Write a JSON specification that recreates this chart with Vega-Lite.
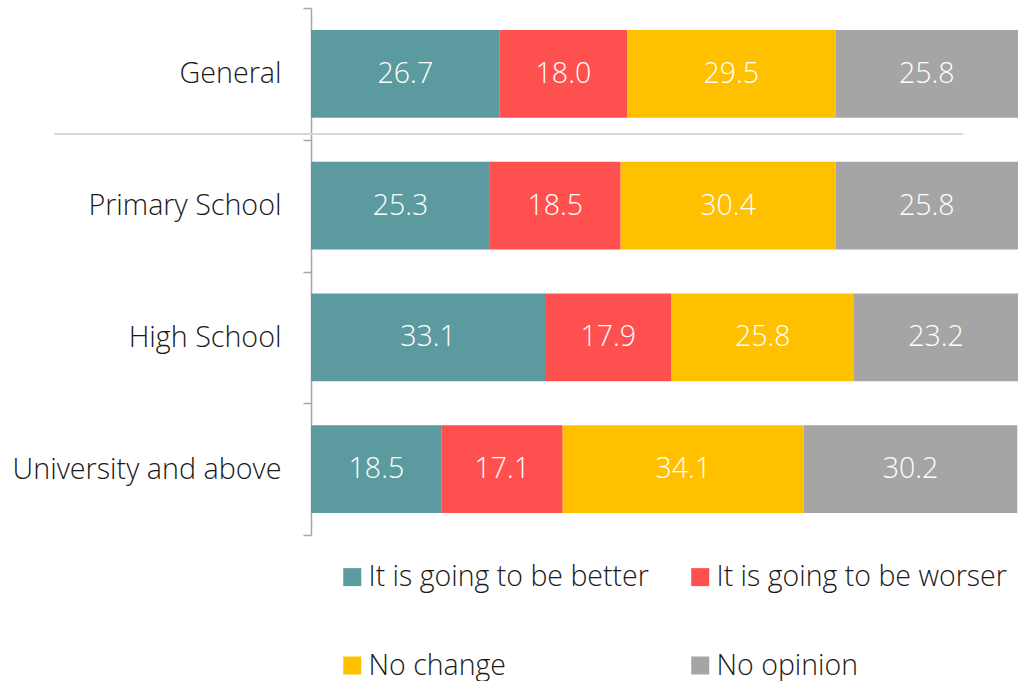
{
  "$schema": "https://vega.github.io/schema/vega-lite/v6.json",
  "width": 707,
  "height": 527,
  "autosize": "none",
  "padding": {"left": 311, "top": 8, "right": 0, "bottom": 146},
  "background": "white",
  "config": {
    "view": {"stroke": null},
    "font": "Open Sans",
    "text": {"font": "Open Sans"}
  },
  "data": {
    "values": [
      {"group": "General", "series": "It is going to be better", "value": 26.7},
      {"group": "General", "series": "It is going to be worser", "value": 18.0},
      {"group": "General", "series": "No change", "value": 29.5},
      {"group": "General", "series": "No opinion", "value": 25.8},
      {"group": "Primary School", "series": "It is going to be better", "value": 25.3},
      {"group": "Primary School", "series": "It is going to be worser", "value": 18.5},
      {"group": "Primary School", "series": "No change", "value": 30.4},
      {"group": "Primary School", "series": "No opinion", "value": 25.8},
      {"group": "High School", "series": "It is going to be better", "value": 33.1},
      {"group": "High School", "series": "It is going to be worser", "value": 17.9},
      {"group": "High School", "series": "No change", "value": 25.8},
      {"group": "High School", "series": "No opinion", "value": 23.2},
      {"group": "University and above", "series": "It is going to be better", "value": 18.5},
      {"group": "University and above", "series": "It is going to be worser", "value": 17.1},
      {"group": "University and above", "series": "No change", "value": 34.1},
      {"group": "University and above", "series": "No opinion", "value": 30.2}
    ]
  },
  "encoding": {
    "y": {
      "field": "group",
      "type": "nominal",
      "sort": ["General", "Primary School", "High School", "University and above"],
      "scale": {"paddingInner": 0, "paddingOuter": 0},
      "axis": {
        "title": null,
        "tickBand": "extent",
        "domainColor": "#A6A6A6",
        "domainWidth": 1.5,
        "tickColor": "#A6A6A6",
        "tickWidth": 1.5,
        "tickSize": 8,
        "labelPadding": 22,
        "labelFont": "Open Sans",
        "labelFontWeight": 300,
        "labelFontSize": 28.7,
        "labelColor": "#1a1a1a",
        "labelLimit": 400
      }
    }
  },
  "layer": [
    {
      "mark": {"type": "bar", "height": {"band": 0.6667}},
      "encoding": {
        "x": {
          "field": "value",
          "type": "quantitative",
          "stack": "zero",
          "scale": {"domain": [0, 100], "nice": false},
          "axis": null
        },
        "order": {"field": "series", "type": "nominal"},
        "color": {
          "field": "series",
          "type": "nominal",
          "scale": {
            "domain": ["It is going to be better", "It is going to be worser", "No change", "No opinion"],
            "range": ["#5B9BA0", "#FF5050", "#FFC000", "#A5A5A5"]
          },
          "legend": {
            "title": null,
            "orient": "none",
            "legendX": 27,
            "legendY": 554.75,
            "direction": "horizontal",
            "columns": 2,
            "columnPadding": 37,
            "rowPadding": 59.5,
            "padding": 0,
            "symbolType": "square",
            "symbolSize": 324,
            "symbolStrokeWidth": 0,
            "symbolOpacity": 1,
            "labelOffset": 2,
            "labelFont": "Open Sans",
            "labelFontWeight": 300,
            "labelFontSize": 28.5,
            "labelColor": "#1a1a1a",
            "labelLimit": 500
          }
        }
      }
    },
    {
      "mark": {"type": "text", "color": "white", "fontSize": 28.5, "fontWeight": 300, "font": "Open Sans", "baseline": "middle", "align": "center"},
      "encoding": {
        "x": {"field": "value", "type": "quantitative", "stack": "zero", "bandPosition": 0.5},
        "order": {"field": "series", "type": "nominal"},
        "detail": {"field": "series", "type": "nominal"},
        "text": {"field": "value", "type": "quantitative", "format": ".1f"}
      }
    },
    {
      "mark": {"type": "rule", "color": "#D9D9D9", "strokeWidth": 2},
      "encoding": {
        "x": {"datum": -36.3, "type": "quantitative"},
        "x2": {"datum": 92.2},
        "y": {"datum": "General", "type": "nominal", "bandPosition": 0.956}
      }
    }
  ]
}
